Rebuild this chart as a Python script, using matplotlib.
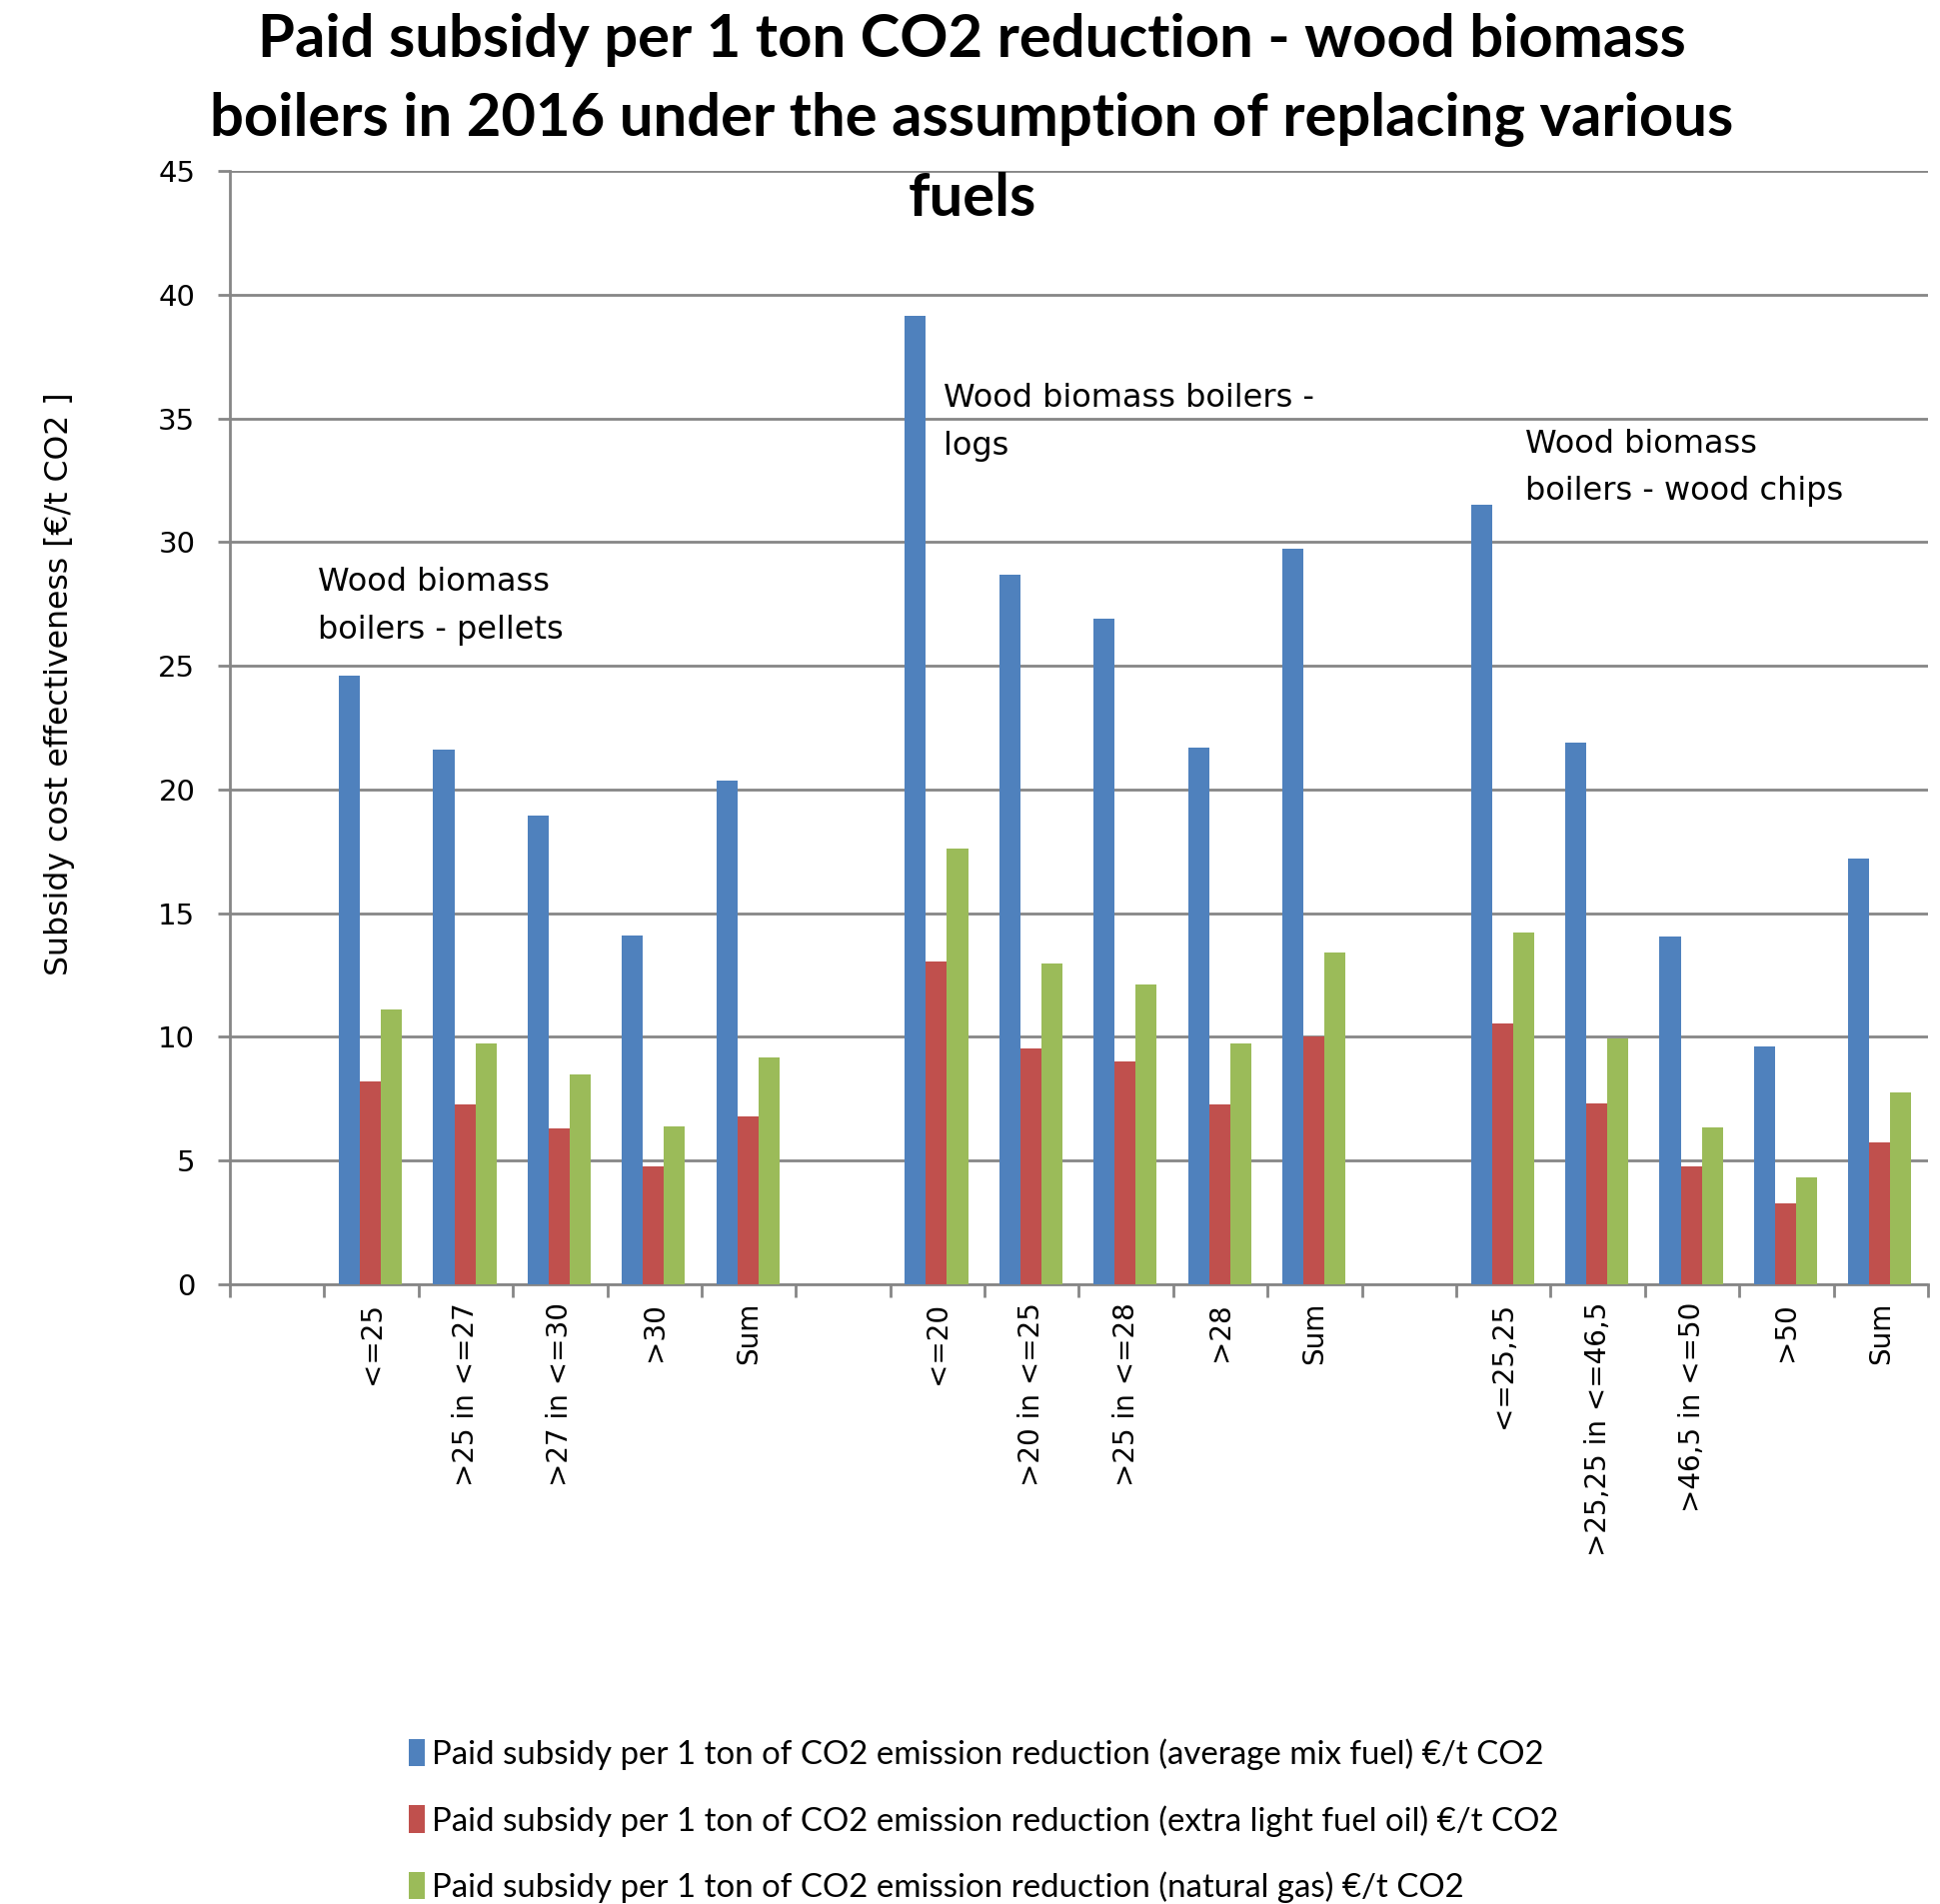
import numpy as np
import matplotlib
matplotlib.use("Agg")
from matplotlib import pyplot as plt
from matplotlib.patches import Patch

# categories (empty strings are the spacer slots between boiler types)
categories = ["", "<=25", ">25 in <=27", ">27 in <=30", ">30", "Sum",
              "", "<=20", ">20 in <=25", ">25 in <=28", ">28", "Sum",
              "", "<=25,25", ">25,25 in <=46,5", ">46,5 in <=50", ">50", "Sum"]

avg_mix = [np.nan, 24.6, 21.6, 18.95, 14.1, 20.35,
           np.nan, 39.15, 28.7, 26.9, 21.7, 29.75,
           np.nan, 31.5, 21.9, 14.05, 9.6, 17.2]
fuel_oil = [np.nan, 8.2, 7.25, 6.3, 4.75, 6.8,
            np.nan, 13.05, 9.55, 9.0, 7.25, 10.0,
            np.nan, 10.55, 7.3, 4.75, 3.25, 5.75]
nat_gas = [np.nan, 11.1, 9.75, 8.5, 6.4, 9.15,
           np.nan, 17.6, 12.95, 12.1, 9.75, 13.4,
           np.nan, 14.2, 9.95, 6.35, 4.3, 7.75]

series_labels = [
    "Paid subsidy per 1 ton of CO2 emission reduction (average mix fuel) €/t CO2",
    "Paid subsidy per 1 ton of CO2 emission reduction (extra light fuel oil) €/t CO2",
    "Paid subsidy per 1 ton of CO2 emission reduction (natural gas) €/t CO2",
]
colors = ["#4F81BD", "#C0504D", "#9BBB59"]

group_notes = ["Wood biomass\nboilers - pellets",
               "Wood biomass boilers -\nlogs",
               "Wood biomass\nboilers - wood chips"]

fig = plt.figure(figsize=(19.41, 19.05), dpi=100)
ax = fig.add_axes([0.1185, 0.3255, 0.9938 - 0.1185, 0.9102 - 0.3255])

x = np.arange(len(categories))
w = 0.223
for i, (vals, c) in enumerate(zip([avg_mix, fuel_oil, nat_gas], colors)):
    ax.bar(x + (i - 1) * w - 0.01, vals, w, color=c, edgecolor="none", zorder=3)

ax.set_xlim(-0.5, len(categories) - 0.5)
ax.set_ylim(0, 45)
ax.set_yticks(np.arange(0, 46, 5))
ax.yaxis.grid(True, color="#868686", lw=2, zorder=0)
ax.set_axisbelow(True)

ax.set_xticks(x)
ax.set_xticklabels(categories, rotation=90, va="top", ha="center", fontsize=20)
ax.set_xticks(np.arange(-0.5, len(categories), 1), minor=True)
ax.tick_params(axis="x", which="major", length=0, pad=13)
ax.tick_params(axis="x", which="minor", length=9, width=2, color="#868686", direction="out")
ax.tick_params(axis="y", length=9, width=2, color="#868686", labelsize=21, pad=16)

for s in ["top", "right"]:
    ax.spines[s].set_visible(False)
for s in ["left", "bottom"]:
    ax.spines[s].set_color("#868686")
    ax.spines[s].set_linewidth(2)

ax.text(0.43, 27.4, group_notes[0], fontsize=23, va="center", ha="left", linespacing=1.7)
ax.text(7.06, 34.85, group_notes[1], fontsize=23, va="center", ha="left", linespacing=1.7)
ax.text(13.23, 33.0, group_notes[2], fontsize=23, va="center", ha="left", linespacing=1.7)

fig.text(0.0306, 0.6407, "Subsidy cost effectiveness [€/t CO2 ]", rotation=90,
         fontsize=22.7, va="center", ha="center")

fig.text(0.501, 0.993, "Paid subsidy per 1 ton CO2 reduction - wood biomass\n"
         "boilers in 2016 under the assumption of replacing various\nfuels",
         fontsize=43, fontweight="bold", family=["Lato", "DejaVu Sans"],
         ha="center", va="top", linespacing=1.56)

handles = [Patch(facecolor=c, edgecolor="none") for c in colors]
fig.legend(handles, series_labels, loc="upper left", bbox_to_anchor=(0.2107, 0.087),
           frameon=False, prop={"family": ["Lato", "DejaVu Sans"], "size": 23.8},
           handlelength=0.5, handleheight=0.9, handletextpad=0.2,
           labelspacing=1.06, borderpad=0, borderaxespad=0)

fig.savefig("out.png", dpi=100)
